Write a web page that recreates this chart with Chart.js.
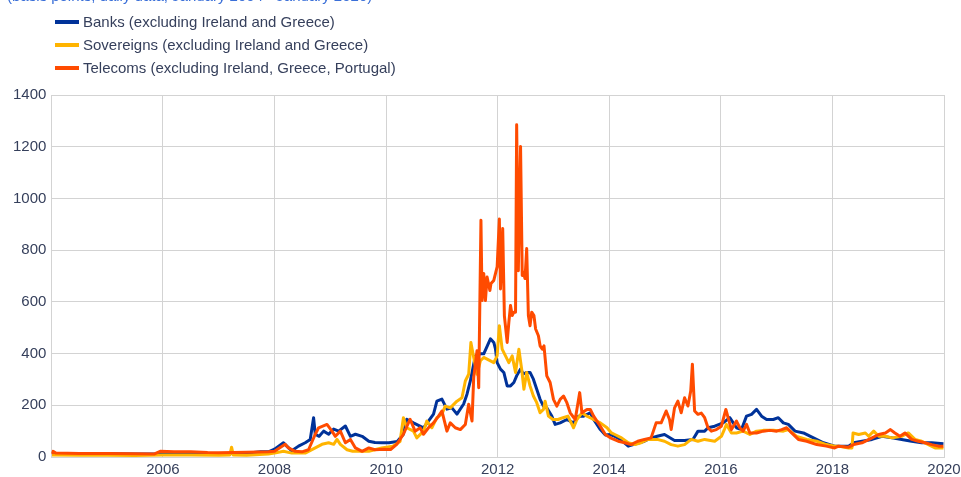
<!DOCTYPE html>
<html>
<head>
<meta charset="utf-8">
<title>CDS spreads</title>
<script src="https://cdn.jsdelivr.net/npm/chart.js@4/dist/chart.umd.min.js"></script>
<style>
  body { margin: 0; background: #fff; font-family: Arial, "Liberation Sans", sans-serif; }
  #wrap { position: relative; width: 961px; height: 477px; overflow: hidden; }
  #sub { position: absolute; left: 7px; top: -13px; font-size: 15px; color: #3a6fd8; white-space: nowrap; }
  #legend { position: absolute; left: 55px; top: 10px; font-size: 15px; color: #353f5b; }
  .item { display: flex; align-items: center; height: 23px; }
  .swatch { width: 24px; height: 4px; margin-right: 4px; }
  canvas { position: absolute; left: 0; top: 0; }
</style>
</head>
<body>
<div id="wrap">
  <canvas id="myChart" width="961" height="477"></canvas>
  <div id="sub">(basis points; daily data; January 2004 - January 2020)</div>
  <div id="legend"></div>
</div>
<script>
// tick labels
const yearTicks = [2006, 2008, 2010, 2012, 2014, 2016, 2018, 2020];

// Banks (excluding Ireland and Greece)
const bankYears = [
  2004.01, 2004.5, 2005.0, 2005.5, 2005.9, 2006.0, 2006.5, 2007.0, 2007.5, 2007.75,
  2007.89, 2008.0, 2008.16, 2008.22, 2008.31, 2008.43, 2008.55, 2008.64, 2008.70, 2008.73,
  2008.80, 2008.88, 2008.97, 2009.06, 2009.15, 2009.27, 2009.36, 2009.45, 2009.57, 2009.69,
  2009.80, 2009.92, 2010.05, 2010.20, 2010.31, 2010.37, 2010.49, 2010.67, 2010.85, 2010.91,
  2011.00, 2011.09, 2011.18, 2011.27, 2011.39, 2011.45, 2011.51, 2011.60, 2011.69, 2011.75,
  2011.87, 2011.93, 2011.96, 2011.99, 2012.05, 2012.11, 2012.17, 2012.23, 2012.29, 2012.34,
  2012.41, 2012.46, 2012.52, 2012.58, 2012.64, 2012.70, 2012.76, 2012.82, 2012.88, 2012.97,
  2013.03, 2013.12, 2013.24, 2013.36, 2013.45, 2013.54, 2013.66, 2013.72, 2013.84, 2013.93,
  2014.02, 2014.10, 2014.20, 2014.34, 2014.46, 2014.63, 2014.75, 2014.86, 2014.99, 2015.17,
  2015.35, 2015.50, 2015.59, 2015.71, 2015.77, 2015.89, 2016.04, 2016.16, 2016.28, 2016.37,
  2016.46, 2016.55, 2016.64, 2016.73, 2016.82, 2016.94, 2017.03, 2017.12, 2017.21, 2017.33,
  2017.48, 2017.66, 2017.84, 2018.04, 2018.11, 2018.29, 2018.38, 2018.53, 2018.71, 2018.89,
  2019.07, 2019.24, 2019.42, 2019.60, 2019.78, 2019.99
];
const bankValues = [
  14, 13, 13, 12, 12, 14, 14, 13, 15, 20,
  20, 30, 55, 42, 24, 42, 55, 68, 152, 88,
  80, 100, 88, 108, 100, 120, 80, 88, 80, 61,
  56, 55, 55, 60, 88, 146, 132, 113, 166, 216,
  224, 185, 190, 166, 205, 243, 294, 391, 399, 399,
  457, 443, 418, 365, 340, 327, 275, 275, 288, 314,
  340, 321, 327, 327, 301, 262, 223, 197, 190, 158,
  126, 132, 145, 132, 158, 158, 171, 145, 106, 85,
  87, 80, 68, 42, 50, 61, 74, 80, 87, 64,
  64, 68, 100, 100, 113, 119, 132, 152, 113, 106,
  158, 165, 184, 158, 145, 145, 152, 132, 126, 100,
  93, 74, 55, 42, 42, 42, 55, 61, 68, 80,
  74, 68, 61, 55, 55, 51
];

// Sovereigns (excluding Ireland and Greece)
const sovYears = [
  2004.01, 2004.5, 2005.0, 2005.5, 2006.0, 2006.5, 2007.0, 2007.2, 2007.23, 2007.26,
  2007.5, 2007.89, 2008.0, 2008.16, 2008.31, 2008.55, 2008.73, 2008.85, 2008.97, 2009.06,
  2009.12, 2009.18, 2009.30, 2009.40, 2009.69, 2009.92, 2010.12, 2010.25, 2010.31, 2010.37,
  2010.49, 2010.55, 2010.67, 2010.73, 2010.82, 2010.91, 2011.00, 2011.06, 2011.15, 2011.27,
  2011.36, 2011.42, 2011.48, 2011.52, 2011.57, 2011.63, 2011.69, 2011.75, 2011.87, 2011.93,
  2011.99, 2012.03, 2012.08, 2012.14, 2012.20, 2012.26, 2012.32, 2012.38, 2012.43, 2012.47,
  2012.52, 2012.58, 2012.64, 2012.70, 2012.76, 2012.82, 2012.85, 2012.91, 2012.99, 2013.08,
  2013.17, 2013.26, 2013.36, 2013.42, 2013.51, 2013.60, 2013.72, 2013.84, 2013.96, 2014.04,
  2014.10, 2014.22, 2014.34, 2014.46, 2014.57, 2014.69, 2014.86, 2014.99, 2015.11, 2015.23,
  2015.35, 2015.47, 2015.59, 2015.71, 2015.89, 2016.01, 2016.07, 2016.10, 2016.19, 2016.28,
  2016.40, 2016.52, 2016.64, 2016.76, 2016.94, 2017.12, 2017.21, 2017.36, 2017.54, 2017.72,
  2017.89, 2018.04, 2018.11, 2018.29, 2018.35, 2018.37, 2018.47, 2018.59, 2018.65, 2018.74,
  2018.83, 2018.95, 2019.07, 2019.24, 2019.36, 2019.48, 2019.60, 2019.72, 2019.84, 2019.99
];
const sovValues = [
  8, 7, 7, 6, 8, 8, 7, 8, 38, 8,
  7, 12, 15, 22, 15, 15, 35, 49, 55, 49,
  68, 49, 28, 22, 22, 35, 42, 60, 152, 113,
  100, 74, 100, 139, 113, 152, 166, 197, 190, 216,
  229, 294, 320, 443, 385, 320, 372, 385, 372, 365,
  391, 508, 417, 391, 365, 391, 327, 417, 340, 262,
  327, 275, 236, 210, 171, 184, 216, 158, 145, 145,
  152, 158, 113, 145, 171, 158, 145, 132, 113, 93,
  87, 74, 55, 48, 55, 68, 68, 61, 48, 42,
  48, 68, 61, 68, 61, 80, 110, 126, 93, 93,
  100, 87, 100, 103, 103, 100, 106, 80, 68, 61,
  48, 42, 42, 35, 35, 93, 87, 93, 80, 100,
  80, 80, 74, 80, 93, 68, 61, 48, 35, 35
];

// Telecoms (excluding Ireland, Greece, Portugal)
const telYears = [
  2004.01, 2004.03, 2004.08, 2004.5, 2005.0, 2005.5, 2005.85, 2005.95, 2006.2, 2006.5,
  2006.8, 2007.0, 2007.5, 2007.89, 2008.0, 2008.19, 2008.25, 2008.37, 2008.49, 2008.61,
  2008.73, 2008.79, 2008.94, 2009.03, 2009.09, 2009.18, 2009.27, 2009.36, 2009.45, 2009.57,
  2009.69, 2009.80, 2009.96, 2010.08, 2010.19, 2010.31, 2010.43, 2010.52, 2010.61, 2010.67,
  2010.76, 2010.85, 2010.94, 2011.00, 2011.09, 2011.15, 2011.24, 2011.33, 2011.42, 2011.48,
  2011.54, 2011.57, 2011.63, 2011.66, 2011.70, 2011.72, 2011.75, 2011.78, 2011.81, 2011.86,
  2011.88, 2011.93, 2011.96, 2011.99, 2012.03, 2012.05, 2012.09, 2012.12, 2012.17, 2012.20,
  2012.23, 2012.26, 2012.29, 2012.32, 2012.34, 2012.37, 2012.41, 2012.44, 2012.46, 2012.49,
  2012.52, 2012.55, 2012.58, 2012.61, 2012.65, 2012.68, 2012.73, 2012.76, 2012.80, 2012.83,
  2012.88, 2012.94, 2013.00, 2013.06, 2013.12, 2013.18, 2013.24, 2013.30, 2013.39, 2013.47,
  2013.51, 2013.60, 2013.66, 2013.72, 2013.84, 2013.93, 2014.02, 2014.16, 2014.28, 2014.39,
  2014.51, 2014.63, 2014.75, 2014.84, 2014.93, 2015.02, 2015.08, 2015.11, 2015.17, 2015.23,
  2015.29, 2015.35, 2015.41, 2015.46, 2015.49, 2015.53, 2015.59, 2015.65, 2015.71, 2015.77,
  2015.83, 2015.92, 2016.01, 2016.09, 2016.13, 2016.19, 2016.28, 2016.34, 2016.40, 2016.46,
  2016.52, 2016.64, 2016.76, 2016.88, 2017.00, 2017.09, 2017.18, 2017.27, 2017.39, 2017.54,
  2017.72, 2017.89, 2018.04, 2018.11, 2018.29, 2018.38, 2018.53, 2018.71, 2018.83, 2018.95,
  2019.04, 2019.12, 2019.21, 2019.30, 2019.42, 2019.54, 2019.66, 2019.78, 2019.90, 2019.99
];
const telValues = [
  12, 22, 15, 14, 14, 13, 12, 22, 20, 20,
  17, 16, 18, 20, 22, 49, 35, 22, 20, 28,
  88, 113, 126, 100, 80, 100, 55, 68, 35, 22,
  35, 28, 30, 29, 49, 88, 146, 100, 113, 88,
  113, 132, 158, 178, 100, 132, 113, 106, 126, 204,
  139, 307, 411, 268, 916, 605, 710, 605, 696, 644,
  671, 683, 709, 735, 920, 650, 884, 546, 443, 521,
  586, 547, 560, 560, 1285, 720, 1201, 702, 715, 690,
  806, 547, 508, 560, 547, 495, 469, 430, 417, 430,
  314, 288, 223, 197, 223, 236, 210, 171, 145, 249,
  171, 184, 184, 158, 119, 87, 74, 61, 55, 48,
  61, 68, 74, 132, 132, 178, 145, 106, 190, 216,
  171, 229, 197, 255, 359, 178, 165, 170, 152, 113,
  100, 106, 119, 184, 152, 106, 139, 113, 100, 126,
  93, 93, 100, 103, 100, 106, 113, 93, 68, 61,
  48, 42, 35, 42, 38, 48, 55, 74, 87, 93,
  106, 93, 80, 93, 68, 61, 55, 48, 42, 42
];

const seriesNames = [
  'Banks (excluding Ireland and Greece)',
  'Sovereigns (excluding Ireland and Greece)',
  'Telecoms (excluding Ireland, Greece, Portugal)'
];
const seriesColors = ['#003299', '#ffb400', '#ff4b00'];

const textColor = '#353f5b';
const gridColor = '#d3d3d3';

function toPoints(xs, ys) {
  return xs.map((x, i) => ({ x: x, y: ys[i] }));
}

window.onload = function () {
  const allData = [
    toPoints(bankYears, bankValues),
    toPoints(sovYears, sovValues),
    toPoints(telYears, telValues)
  ];

  const datasets = seriesNames.map((name, i) => ({
    label: name,
    data: allData[i],
    borderColor: seriesColors[i],
    backgroundColor: seriesColors[i],
    borderWidth: 3,
    pointRadius: 0,
    tension: 0,
    borderJoinStyle: 'round',
    fill: false,
    order: 3 - i
  }));

  // legend as html list
  const legend = document.getElementById('legend');
  seriesNames.forEach((name, i) => {
    const row = document.createElement('div');
    row.className = 'item';
    const sw = document.createElement('span');
    sw.className = 'swatch';
    sw.style.background = seriesColors[i];
    const txt = document.createElement('span');
    txt.textContent = name;
    row.appendChild(sw);
    row.appendChild(txt);
    legend.appendChild(row);
  });

  const ctx = document.getElementById('myChart');
  new Chart(ctx, {
    type: 'line',
    data: { datasets: datasets },
    options: {
      responsive: false,
      animation: false,
      layout: { padding: { top: 95, left: 8, right: 0, bottom: -6 } },
      plugins: { legend: { display: false }, tooltip: { enabled: false } },
      scales: {
        x: {
          type: 'linear',
          min: 2004.0,
          max: 2020.0,
          afterBuildTicks: axis => { axis.ticks = yearTicks.map(v => ({ value: v })); },
          afterFit: axis => { axis.paddingRight = 17; },
          ticks: {
            callback: v => String(v),
            color: textColor,
            font: { size: 15, family: 'Arial, "Liberation Sans", sans-serif' },
            maxRotation: 0,
            autoSkip: false,
            padding: 4
          },
          grid: { color: gridColor, drawTicks: false },
          border: { color: gridColor }
        },
        y: {
          min: 0,
          max: 1400,
          ticks: {
            stepSize: 200,
            callback: v => String(v),
            color: textColor,
            font: { size: 15, family: 'Arial, "Liberation Sans", sans-serif' },
            padding: 5
          },
          grid: { color: gridColor, drawTicks: false },
          border: { color: gridColor }
        }
      }
    }
  });
};
</script>
</body>
</html>
